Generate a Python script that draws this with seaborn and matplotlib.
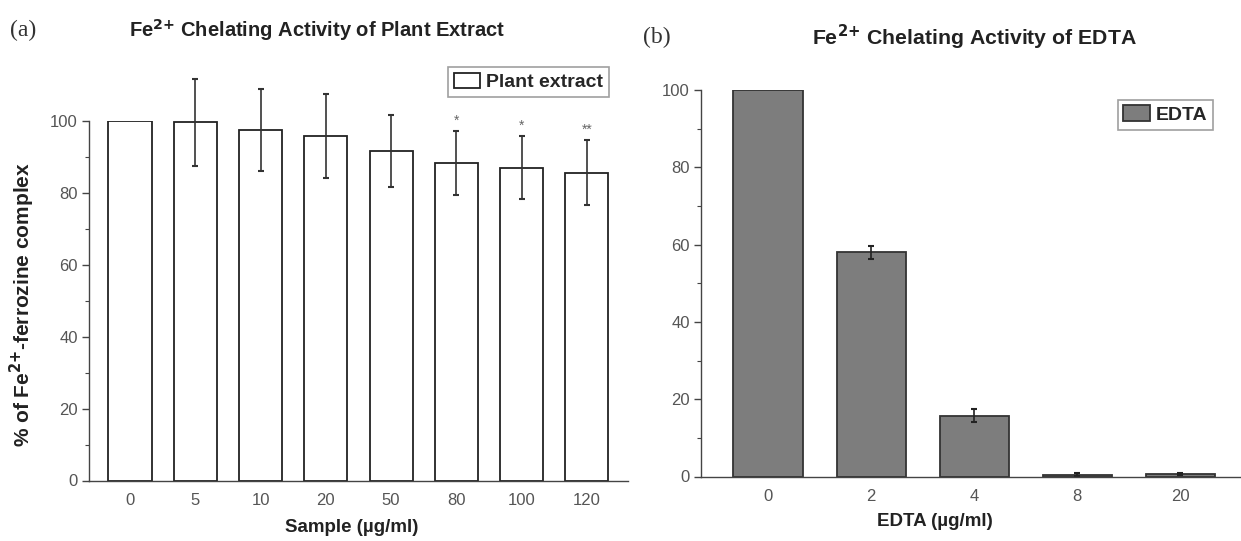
import numpy as np
import pandas as pd
import matplotlib
matplotlib.use("Agg")
import matplotlib.pyplot as plt
import seaborn as sns

# ---- data ----
plant_doses = ["0", "5", "10", "20", "50", "80", "100", "120"]
plant_values = [100.0, 99.6, 97.5, 95.8, 91.6, 88.2, 86.9, 85.6]
plant_errors = [0.0, 12.1, 11.4, 11.6, 9.9, 8.9, 8.8, 8.9]
plant_marks = ["", "", "", "", "", "*", "*", "**"]

edta_doses = ["0", "2", "4", "8", "20"]
edta_values = [100.0, 58.0, 15.7, 0.5, 0.7]
edta_errors = [0.0, 1.7, 1.7, 0.3, 0.2]

sns.set_theme(style="white")
FONT = ["Liberation Sans Narrow", "Liberation Sans", "DejaVu Sans"]
plt.rcParams["font.family"] = FONT
plt.rcParams["mathtext.fontset"] = "custom"
plt.rcParams["mathtext.rm"] = "Liberation Sans Narrow"
plt.rcParams["mathtext.bf"] = "Liberation Sans Narrow:bold"
plt.rcParams["mathtext.it"] = "Liberation Sans Narrow:italic"

fig = plt.figure(figsize=(12.41, 5.41), dpi=100)
W, H = 1241, 541

def axes_px(x0, x1, ytop, ybot):
    return fig.add_axes([x0 / W, 1 - ybot / H, (x1 - x0) / W, (ybot - ytop) / H])

ax_a = axes_px(89, 628, 120.7, 480.5)
ax_b = axes_px(701, 1241, 90, 476.5)

tick_col = "#555555"
spine_col = "#444444"

def style(ax, xlim, xpad):
    ax.set_ylim(0, 100)
    ax.set_xlim(*xlim)
    for s in ["top", "right"]:
        ax.spines[s].set_visible(False)
    for s in ["left", "bottom"]:
        ax.spines[s].set_color(spine_col)
        ax.spines[s].set_linewidth(1.0)
    ax.set_yticks([0, 20, 40, 60, 80, 100])
    ax.set_yticks([10, 30, 50, 70, 90], minor=True)
    ax.tick_params(axis="y", which="major", direction="out", length=5, width=1,
                   color=spine_col, labelsize=12, labelcolor=tick_col, pad=3, left=True)
    ax.tick_params(axis="y", which="minor", direction="out", length=3, width=0.8,
                   color=spine_col, left=True)
    ax.tick_params(axis="x", length=0, labelsize=12, labelcolor=tick_col, pad=xpad)
    ax.set_xlabel("")
    ax.set_ylabel("")

def nonzero_err(xs, hs, errs):
    keep = [i for i, e in enumerate(errs) if e > 0]
    return ([xs[i] for i in keep], [hs[i] for i in keep], [errs[i] for i in keep])

legend_kw = dict(frameon=True, fancybox=False, edgecolor="#888888",
                 handlelength=1.35, handleheight=0.85, handletextpad=0.3,
                 borderpad=0.3, borderaxespad=0,
                 prop={"family": FONT, "weight": "bold", "size": 14})

# ---- panel a ----
df_a = pd.DataFrame({"dose": plant_doses, "value": plant_values})
sns.barplot(data=df_a, x="dose", y="value", ax=ax_a, color="white",
            edgecolor="#222222", linewidth=1.3, width=0.66, errorbar=None,
            label="Plant extract")
style(ax_a, (-0.628, 7.63), 9)
xs_a = [p.get_x() + p.get_width() / 2 for p in ax_a.patches]
hs_a = [p.get_height() for p in ax_a.patches]
ex, eh, ee = nonzero_err(xs_a, hs_a, plant_errors)
ax_a.errorbar(ex, eh, yerr=ee, fmt="none", ecolor="#333333",
              elinewidth=1.2, capsize=2.5, capthick=1.5, clip_on=False)
for x, h, e, m in zip(xs_a, hs_a, plant_errors, plant_marks):
    if m:
        ax_a.text(x, h + e + 1.0, m, ha="center", va="bottom", fontsize=10,
                  color="#666666")
leg = ax_a.legend(loc="upper right", bbox_to_anchor=(0.965, 1.15), **legend_kw)
leg.get_frame().set_linewidth(1.2)

# ---- panel b ----
df_b = pd.DataFrame({"dose": edta_doses, "value": edta_values})
sns.barplot(data=df_b, x="dose", y="value", ax=ax_b, color="#7d7d7d",
            saturation=1, edgecolor="#333333", linewidth=1.3, width=0.67,
            errorbar=None, label="EDTA")
style(ax_b, (-0.65, 4.59), 9)
xs_b = [p.get_x() + p.get_width() / 2 for p in ax_b.patches]
hs_b = [p.get_height() for p in ax_b.patches]
ex, eh, ee = nonzero_err(xs_b, hs_b, edta_errors)
ax_b.errorbar(ex, eh, yerr=ee, fmt="none", ecolor="#222222",
              elinewidth=1.2, capsize=2.5, capthick=1.5, clip_on=False)
leg = ax_b.legend(loc="upper right", bbox_to_anchor=(0.948, 0.975), **legend_kw)
leg.get_frame().set_linewidth(1.2)

# ---- texts ----
fig.text(10 / W, 1 - 30 / H, "(a)", family=["Liberation Serif", "DejaVu Serif"],
         fontsize=17, va="center", ha="left", color="#333333")
fig.text(643 / W, 1 - 37 / H, "(b)", family=["Liberation Serif", "DejaVu Serif"],
         fontsize=17, va="center", ha="left", color="#333333")
fig.text(317 / W, 1 - 30 / H, r"Fe$^{\mathbf{2{+}}}$ Chelating Activity of Plant Extract",
         fontsize=14.5, weight="bold", ha="center", va="center", color="#222222")
fig.text(974 / W, 1 - 37 / H, r"Fe$^{\mathbf{2{+}}}$ Chelating Activity of EDTA",
         fontsize=15.3, weight="bold", ha="center", va="center", color="#222222")
fig.text(352 / W, 1 - 527 / H, "Sample (µg/ml)", fontsize=13.5, weight="bold",
         ha="center", va="center", color="#222222")
fig.text(935 / W, 1 - 522 / H, "EDTA (µg/ml)", fontsize=13.5, weight="bold",
         ha="center", va="center", color="#222222")
fig.text(22 / W, 1 - 305 / H, r"% of Fe$^{\mathbf{2{+}}}$-ferrozine complex", fontsize=15,
         weight="bold", rotation=90, ha="center", va="center", color="#222222")

fig.savefig("out.png", dpi=100)
